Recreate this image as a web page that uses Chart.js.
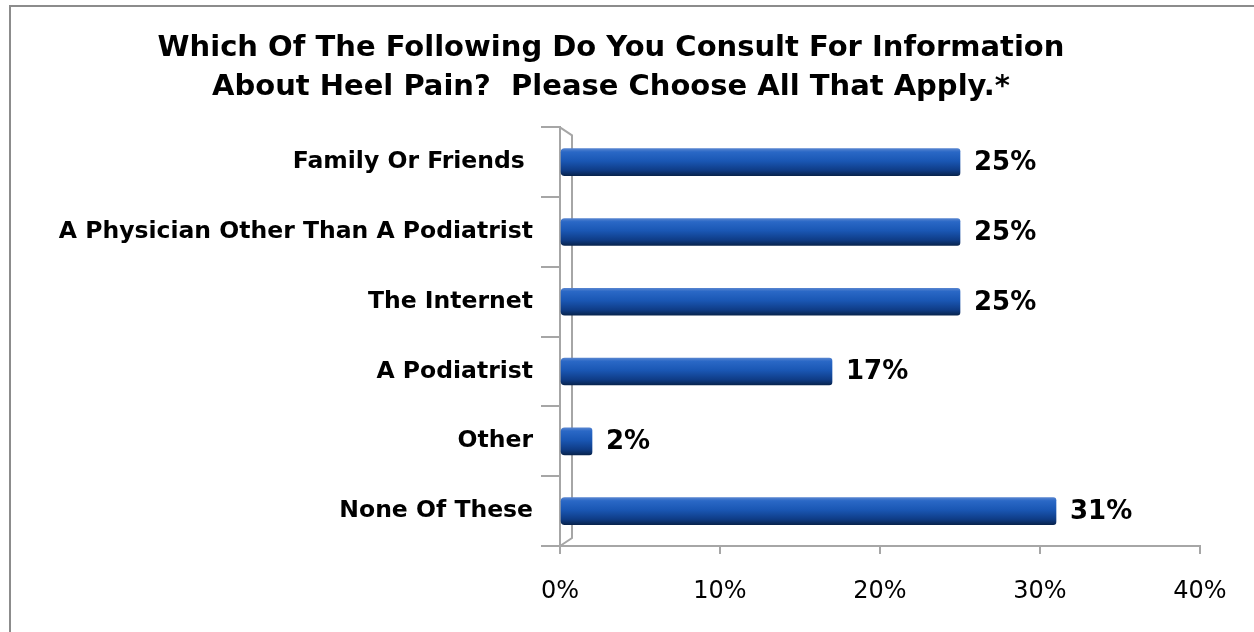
<!DOCTYPE html>
<html>
<head>
<meta charset="utf-8">
<title>Heel Pain Information Sources</title>
<script src="https://cdn.jsdelivr.net/npm/chart.js@4/dist/chart.umd.min.js"></script>
<style>
    html, body { margin: 0; padding: 0; background: #fff; }
    #wrap { position: relative; width: 1254px; height: 632px; overflow: hidden; }
    #frame { position: absolute; left: 9px; top: 5px; width: 1300px; height: 700px;
             border-top: 2px solid #8c8c8c; border-left: 2px solid #8c8c8c; }
    #chart { position: absolute; left: 0; top: 0; }
</style>
</head>
<body>
<div id="wrap">
    <div id="frame"></div>
    <canvas id="chart" width="1254" height="632"></canvas>
</div>
<script>
// Chart data
const categories = ['Family Or Friends ', 'A Physician Other Than A Podiatrist', 'The Internet', 'A Podiatrist', 'Other', 'None Of These'];
const percentValues = [25, 25, 25, 17, 2, 31];
const xTickValues = [0, 10, 20, 30, 40];
const titleLines = ['Which Of The Following Do You Consult For Information', 'About Heel Pain?  Please Choose All That Apply.*'];

const FONT = "'DejaVu Sans', sans-serif";
const AXIS_GRAY = '#a6a6a6';
const BAR_H = 27;

// cylinder-ish vertical gradient for each bar
function barGradient(context) {
    const chart = context.chart;
    const yScale = chart.scales.y;
    if (!yScale || context.dataIndex === undefined) return '#1a55b0';
    const cy = yScale.getPixelForValue(context.dataIndex);
    if (!Number.isFinite(cy)) return '#1a55b0';
    const g = chart.ctx.createLinearGradient(0, cy - BAR_H / 2, 0, cy + BAR_H / 2);
    g.addColorStop(0, '#5583cf');
    g.addColorStop(0.12, '#2a68c6');
    g.addColorStop(0.45, '#1a57b4');
    g.addColorStop(0.8, '#0f3c86');
    g.addColorStop(1, '#08244e');
    return g;
}

// back wall of the 3D plot
const backWall = {
    id: 'backWall',
    beforeDatasetsDraw(chart) {
        const { ctx, chartArea } = chart;
        ctx.save();
        ctx.strokeStyle = AXIS_GRAY;
        ctx.lineWidth = 2;
        ctx.beginPath();
        ctx.moveTo(chartArea.left, chartArea.top);
        ctx.lineTo(chartArea.left + 12, chartArea.top + 8);
        ctx.lineTo(chartArea.left + 12, chartArea.bottom - 8);
        ctx.lineTo(chartArea.left, chartArea.bottom);
        ctx.stroke();
        ctx.restore();
    }
};

// value labels to the right of bars
const valueLabels = {
    id: 'valueLabels',
    afterDatasetsDraw(chart) {
        const { ctx } = chart;
        const meta = chart.getDatasetMeta(0);
        ctx.save();
        ctx.font = 'bold 26px ' + FONT;
        ctx.fillStyle = '#000';
        ctx.textAlign = 'left';
        ctx.textBaseline = 'middle';
        meta.data.forEach((bar, i) => {
            ctx.fillText(percentValues[i] + '%', bar.x + 14, bar.y + 1);
        });
        ctx.restore();
    }
};

window.addEventListener('DOMContentLoaded', () => {
    const ctx = document.getElementById('chart').getContext('2d');
    new Chart(ctx, {
        type: 'bar',
        data: {
            labels: categories,
            datasets: [{
                data: percentValues,
                backgroundColor: barGradient,
                borderWidth: 0,
                borderRadius: { topLeft: 4, bottomLeft: 4, topRight: 3, bottomRight: 3 },
                borderSkipped: false,
                barThickness: BAR_H
            }]
        },
        options: {
            indexAxis: 'y',
            responsive: false,
            animation: false,
            layout: { padding: { left: 22, right: 54, top: 0, bottom: 29 } },
            plugins: {
                legend: { display: false },
                tooltip: { enabled: false },
                title: {
                    display: true,
                    text: titleLines,
                    color: '#000',
                    font: { family: FONT, size: 29, weight: 'bold', lineHeight: 1.35 },
                    padding: { top: 29, bottom: 20 }
                }
            },
            scales: {
                x: {
                    min: 0,
                    max: 40,
                    afterBuildTicks: (scale) => { scale.ticks = xTickValues.map(v => ({ value: v })); },
                    afterFit: (scale) => { scale.height = 57; },
                    ticks: {
                        callback: (v) => v + '%',
                        color: '#000',
                        font: { family: FONT, size: 24 },
                        padding: 23,
                        maxRotation: 0
                    },
                    grid: { drawOnChartArea: false, color: AXIS_GRAY, lineWidth: 2, tickLength: 8 },
                    border: { color: AXIS_GRAY, width: 2 }
                },
                y: {
                    afterFit: (scale) => { scale.width = 538; },
                    ticks: {
                        color: '#000',
                        font: { family: FONT, size: 23.5, weight: 'bold' },
                        padding: 8
                    },
                    grid: { drawOnChartArea: false, color: AXIS_GRAY, lineWidth: 2, tickLength: 19 },
                    border: { color: AXIS_GRAY, width: 2 }
                }
            }
        },
        plugins: [backWall, valueLabels]
    });
});
</script>
</body>
</html>
